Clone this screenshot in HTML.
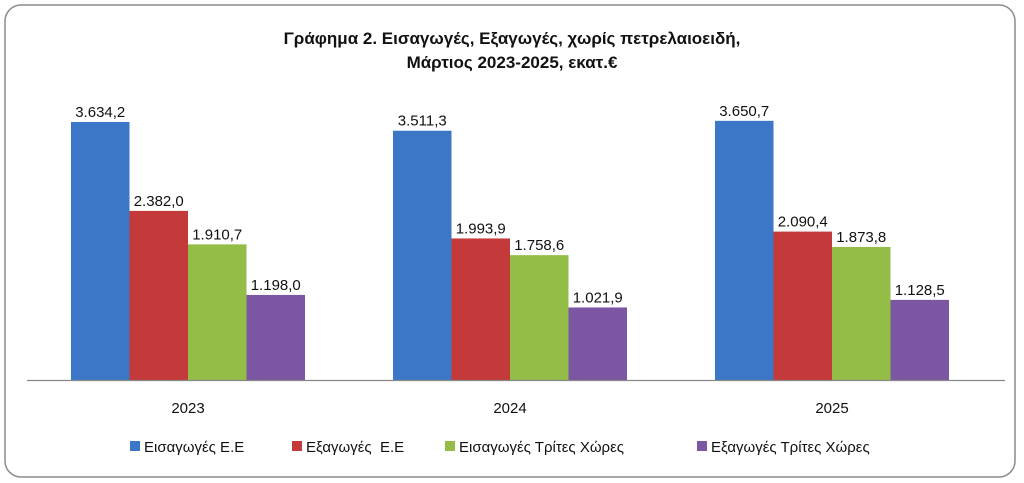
<!DOCTYPE html>
<html><head><meta charset="utf-8"><style>
body{margin:0;background:#fff;}
svg{display:block;font-family:"Liberation Sans",sans-serif;}
</style></head><body>
<svg id="c" width="1024" height="483">
<rect x="5" y="5" width="1010" height="472" rx="16" fill="#fff" stroke="#8c8c8c" stroke-width="1.5"/>
<text x="512" y="44" text-anchor="middle" font-size="17" font-weight="bold" fill="#111">Γράφημα 2. Εισαγωγές, Εξαγωγές, χωρίς πετρελαιοειδή,</text>
<text x="512" y="68" text-anchor="middle" font-size="17" font-weight="bold" fill="#111">Μάρτιος 2023-2025, εκατ.€</text>
<g id="bars"></g>
<line x1="27" y1="380.5" x2="1005" y2="380.5" stroke="#888" stroke-width="1.2"/>
<g id="legend"></g>
</svg>
<script>
const categories=["2023","2024","2025"];
const seriesNames=["Εισαγωγές Ε.Ε","Εξαγωγές  Ε.Ε","Εισαγωγές Τρίτες Χώρες","Εξαγωγές Τρίτες Χώρες"];
const importsEU=[3634.2,3511.3,3650.7];
const exportsEU=[2382.0,1993.9,2090.4];
const importsThird=[1910.7,1758.6,1873.8];
const exportsThird=[1198.0,1021.9,1128.5];
const series=[importsEU,exportsEU,importsThird,exportsThird];
const colors=["#3b77c6","#c4393a","#93bd47","#7b57a3"];
const NS="http://www.w3.org/2000/svg";
const x0=27,catW=322,barW=58.5,baseY=380,scale=(380-122)/3634.2;
const y=v=>baseY-v*scale;
const fmt=v=>{let s=v.toFixed(1).split('.');let i=s[0].replace(/\B(?=(\d{3})+(?!\d))/g,'.');return i+','+s[1];};
const g=document.getElementById('bars');
categories.forEach((c,ci)=>{
  const gx=x0+ci*catW+(catW-4*barW)/2;
  series.forEach((s,si)=>{
    const v=s[ci];
    const r=document.createElementNS(NS,'rect');
    r.setAttribute('x',gx+si*barW);r.setAttribute('y',y(v));
    r.setAttribute('width',barW);r.setAttribute('height',baseY-y(v));
    r.setAttribute('fill',colors[si]);
    
    
    g.appendChild(r);
    const t=document.createElementNS(NS,'text');
    t.setAttribute('x',gx+si*barW+barW/2);t.setAttribute('y',y(v)-5);
    t.setAttribute('text-anchor','middle');t.setAttribute('font-size','15');t.setAttribute('fill','#111');
    t.textContent=fmt(v);
    
    
    g.appendChild(t);
  });
  const l=document.createElementNS(NS,'text');
  l.setAttribute('x',x0+ci*catW+catW/2);l.setAttribute('y',413);
  l.setAttribute('text-anchor','middle');l.setAttribute('font-size','15');l.setAttribute('fill','#111');
  l.textContent=c;
  
  
  g.appendChild(l);
});
const lx=[130,292,445,697];
const lg=document.getElementById('legend');
seriesNames.forEach((n,i)=>{
  const r=document.createElementNS(NS,'rect');
  r.setAttribute('x',lx[i]);r.setAttribute('y',441);r.setAttribute('width',10);r.setAttribute('height',10);
  r.setAttribute('fill',colors[i]);
  
  
  lg.appendChild(r);
  const t=document.createElementNS(NS,'text');
  t.setAttribute('x',lx[i]+14);t.setAttribute('y',452);t.setAttribute('font-size','15');t.setAttribute('fill','#111');
  t.setAttribute('xml:space','preserve');t.style.whiteSpace='pre';
  t.textContent=n;
  
  
  lg.appendChild(t);
});
</script>
</body></html>
